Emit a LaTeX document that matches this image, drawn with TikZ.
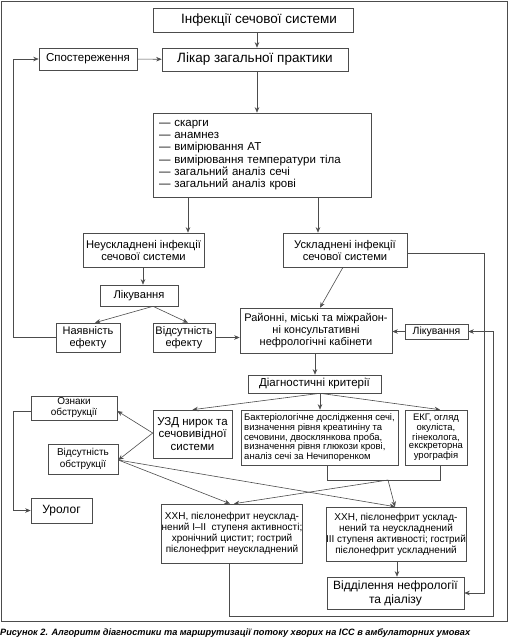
\documentclass[tikz,border=0pt]{standalone}
\usepackage{fontspec}
\setmainfont{Liberation Sans}
\usetikzlibrary{arrows.meta}
\newcommand{\fsz}[2]{\fontsize{#1}{#2}\selectfont}
\begin{document}
\begin{tikzpicture}[x=1pt,y=-1pt,
  ln/.style={line width=0.6pt, draw=black!70},
  arr/.style={ln, -{Stealth[length=5.5pt,width=4.5pt]}},
  box/.style={draw=black!70, line width=0.6pt, inner sep=0pt, align=center},
  wh/.style 2 args={minimum width=#1pt, minimum height=#2pt}]
\useasboundingbox (0,0) rectangle (510,641);
\draw[line width=0.8pt, black!70] (1.5,1) rectangle (507.5,621);

\node[box, wh={200}{24}, font=\fsz{13.5}{15}] (inf) at (253,20) {\hspace*{12pt}Інфекції сечової системи};
\node[box, wh={98}{22}, font=\fsz{11.5}{13}] (spost) at (88,59) {Спостереження};
\node[box, wh={186}{23}, font=\fsz{13.5}{15}] (likar) at (255,59.5) {Лікар загальної практики};
\node[box, wh={218}{84}, align=left, text width=206pt, font=\fsz{11.5}{12.2}] (chk) at (262,155)
  {— скарги\\— анамнез\\— вимірювання АТ\\— вимірювання температури тіла\\— загальний аналіз сечі\\— загальний аналіз крові};
\node[box, wh={121}{34}, font=\fsz{11.2}{12}] (neusk) at (143.5,250) {Неускладнені інфекції\\сечової системи};
\node[box, wh={124}{34}, font=\fsz{11.2}{12}] (usk) at (345,250) {Ускладнені інфекції\\сечової системи};
\node[box, wh={78}{21}, font=\fsz{11.2}{13}] (lik1) at (139,295.5) {Лікування};
\node[box, wh={64}{29}, font=\fsz{11}{12}] (nayav) at (88,337.5) {Наявність\\ефекту};
\node[box, wh={62}{29}, font=\fsz{11}{12}] (vids) at (184,337.5) {Відсутність\\ефекту};
\node[box, wh={152}{45}, font=\fsz{11}{12}] (rayon) at (316,330.5) {Районні, міські та міжрайон-\\ні консультативні\\нефрологічні кабінети};
\node[box, wh={63}{15}, font=\fsz{10.5}{12}] (lik2) at (436.5,331.5) {Лікування};
\node[box, wh={133}{18}, font=\fsz{11.5}{13}] (diag) at (314.5,384) {Діагностичні критерії};
\node[box, wh={79}{48}, font=\fsz{11.5}{12.5}] (uzd) at (192.5,434) {УЗД нирок та\\сечовивідної\\системи};
\node[box, wh={157}{55}, align=left, font=\fsz{9.5}{8.6}] (bakt) at (319.5,437.5) {Бактеріологічне дослідження сечі,\\визначення рівня креатиніну та\\сечовини, двосклянкова проба,\\визначення рівня глюкози крові,\\аналіз сечі за Нечипоренком};
\node[box, wh={62}{55}, font=\fsz{9.5}{8.6}] (ekg) at (436,437.5) {ЕКГ, огляд\\окуліста,\\гінеколога,\\екскреторна\\урографія};
\node[box, wh={86}{24}, font=\fsz{10}{11}] (ozn) at (74,408) {Ознаки\\обструкції};
\node[box, wh={70}{30}, font=\fsz{10}{11.5}] (vidobs) at (83,459) {Відсутність\\обструкції};
\node[box, wh={61}{25}, font=\fsz{12}{14}] (urol) at (61.5,510.5) {Уролог};
\node[box, wh={140}{59}, font=\fsz{10}{11}] (xxn1) at (232,533.5) {ХХН, пієлонефрит неусклад-\\нений I–II\ \ ступеня активності;\\хронічний цистит; гострий\\пієлонефрит неускладнений};
\node[box, wh={138}{54}, font=\fsz{10}{11}] (xxn2) at (396,534) {ХХН, пієлонефрит усклад-\\нений та неускладнений\\III ступеня активності; гострий\\пієлонефрит ускладнений};
\node[box, wh={137}{32}, font=\fsz{12}{14}] (viddil) at (395.5,593) {Відділення нефрології\\та діалізу};
\node[anchor=west, inner sep=0pt, font=\bfseries\itshape\fsz{9.2}{11}] (cap) at (0,633) {Рисунок 2. Алгоритм діагностики та маршрутизації потоку хворих на ІСС в амбулаторних умовах};

\coordinate (j) at (388,480);
\draw[arr] (inf.south -| 257,0) -- (likar.north -| 257,0);
\draw[arr] (spost) -- (likar);
\draw[arr] (nayav.west) -- (13,337.5) -- (13,59) -- (spost.west);
\draw[arr] (likar.south -| 257,0) -- (chk.north -| 257,0);
\draw[arr] (chk.south -| 188,0) -- (neusk.north -| 188,0);
\draw[arr] (chk.south -| 318,0) -- (usk.north -| 318,0);
\draw[arr] (neusk.south -| 143,0) -- (lik1.north -| 143,0);
\draw[arr] (lik1.south -| 153,0) -- (nayav.north -| 95,0);
\draw[arr] (lik1.south -| 153,0) -- (vids.north -| 188,0);
\draw[arr] (vids.east) -- (rayon.west |- vids.east);
\draw[arr] (usk.south -| 343,0) -- (rayon.north -| 320,0);
\draw[arr] (usk.east |- 0,253) -- (484,253) -- (484,593) -- (viddil.east);
\draw[arr] (lik2.west) -- (rayon.east |- lik2.west);
\draw[arr] (rayon.south -| 315,0) -- (diag.north -| 315,0);
\draw[arr] (diag.south -| 320,0) -- (uzd.north);
\draw[arr] (diag.south -| 320,0) -- (bakt.north -| 320,0);
\draw[arr] (diag.south -| 320,0) -- (ekg.north -| 440,0);
\draw[arr] (uzd.west |- 0,433) -- (ozn.east |- 0,411);
\draw[arr] (uzd.west |- 0,433) -- (vidobs.east |- 0,460);
\draw[arr] (ozn.west |- 0,411) -- (13,411) -- (13,510.5) -- (urol.west);
\draw[arr] (vidobs.east |- 0,460) -- (xxn1.north -| 230,0);
\draw[arr] (vidobs.east |- 0,460) -- (xxn2.north -| 395,0);
\draw[ln] (bakt.south -| 327,0) -- (327,480) -- (440,480) -- (ekg.south -| 440,0);
\draw[arr] (j) -- (xxn1.north -| 234,0);
\draw[arr] (j) -- (xxn2.north -| 395,0);
\draw[arr] (xxn2.south -| 397,0) -- (viddil.north -| 397,0);
\draw[arr] (xxn1.south -| 229,0) -- (229,616) -- (493,616) -- (493,331.5) -- (lik2.east);
\end{tikzpicture}
\end{document}
